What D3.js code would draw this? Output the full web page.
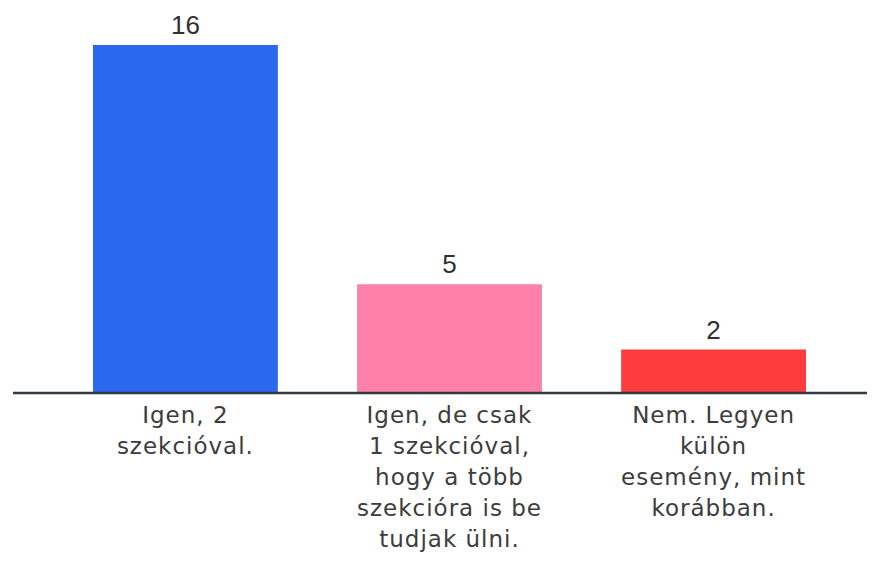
<!DOCTYPE html>
<html>
<head>
<meta charset="utf-8">
<script src="https://cdn.jsdelivr.net/npm/d3@7"></script>
<style>
  body { margin: 0; background: #fff; }
</style>
</head>
<body>
<svg></svg>
<script>
const categories = [
  ["Igen, 2", "szekcióval."],
  ["Igen, de csak", "1 szekcióval,", "hogy a több", "szekcióra is be", "tudjak ülni."],
  ["Nem. Legyen", "külön", "esemény, mint", "korábban."]
];
const values = [16, 5, 2];
const colors = ["#2b68f0", "#ff80a9", "#ff3d3d"];

const outerWidth = 873;
const outerHeight = 562;

const svg = d3.select("svg")
  .attr("width", outerWidth)
  .attr("height", outerHeight);

const idx = d3.range(values.length);

// scales
const x = d3.scaleBand()
  .domain(idx)
  .range([23, 876])
  .paddingInner(0.3)
  .paddingOuter(0.265);

const y = d3.scaleLinear()
  .domain([0, 16])
  .range([393, 45]);

// bars
svg.selectAll("rect.bar")
  .data(idx)
  .enter()
  .append("rect")
  .attr("class", "bar")
  .attr("x", i => x(i))
  .attr("y", i => y(values[i]))
  .attr("width", x.bandwidth())
  .attr("height", i => y(0) - y(values[i]))
  .style("fill", i => colors[i]);

// value labels
svg.selectAll("text.value")
  .data(idx)
  .enter()
  .append("text")
  .attr("class", "value")
  .attr("x", i => x(i) + x.bandwidth() / 2)
  .attr("y", i => y(values[i]) - 11)
  .attr("text-anchor", "middle")
  .style("font-family", "'Liberation Sans', Arial, sans-serif")
  .style("font-size", "26px")
  .style("fill", "#2f2f2f")
  .text(i => values[i]);

// baseline
svg.append("line")
  .attr("x1", 13)
  .attr("x2", 867)
  .attr("y1", y(0))
  .attr("y2", y(0))
  .style("stroke", "#333a40")
  .style("stroke-width", 2.5);

// category labels
const labels = svg.selectAll("text.cat")
  .data(idx)
  .enter()
  .append("text")
  .attr("class", "cat")
  .attr("text-anchor", "middle")
  .style("font-family", "'DejaVu Sans', sans-serif")
  .style("font-size", "23px")
  .style("letter-spacing", "1px")
  .style("fill", "#3c3c3c");

labels.selectAll("tspan")
  .data(i => categories[i].map(t => ({ i, t })))
  .enter()
  .append("tspan")
  .attr("x", d => x(d.i) + x.bandwidth() / 2)
  .attr("y", (d, j) => y(0) + 30 + j * 31)
  .text(d => d.t);
</script>
</body>
</html>
